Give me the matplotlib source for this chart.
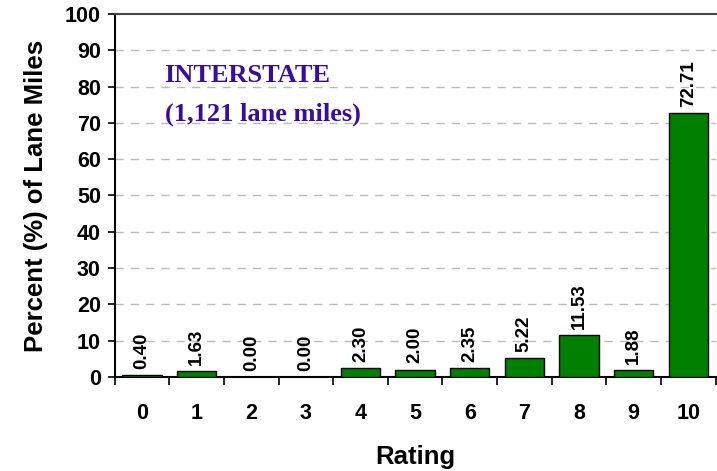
import matplotlib.pyplot as plt
import numpy as np

ratings = ['0', '1', '2', '3', '4', '5', '6', '7', '8', '9', '10']
percents = [0.40, 1.63, 0.00, 0.00, 2.30, 2.00, 2.35, 5.22, 11.53, 1.88, 72.71]

plt.rcParams['font.family'] = ['Liberation Sans', 'DejaVu Sans']

fig = plt.figure(figsize=(7.17, 4.71), dpi=100)
ax = fig.add_axes([0.160, 0.200, 0.838, 0.770])

x = np.arange(len(ratings))
ax.bar(x, percents, width=0.72, color='#008000', edgecolor='black', linewidth=1, zorder=3)

for xi, v in zip(x, percents):
    ax.annotate('%.2f' % v, (xi, v), xytext=(0, 4.5), textcoords='offset points',
                rotation=90, ha='center', va='bottom', fontsize=13.5, fontweight='bold')

ax.set_xlim(-0.5, 10.5)
ax.set_ylim(0, 100)
ax.set_yticks(range(0, 101, 10))
ax.set_yticklabels([str(t) for t in range(0, 101, 10)], fontsize=15.5, fontweight='bold')

# category ticks at boundaries, labels at centres
ax.set_xticks(np.arange(-0.5, 11, 1))
ax.set_xticklabels([])
ax.set_xticks(x, minor=True)
ax.set_xticklabels(ratings, minor=True, fontsize=15.5, fontweight='bold')
ax.tick_params(axis='x', which='major', direction='out', length=6, width=1.2)
ax.tick_params(axis='x', which='minor', length=0, pad=19)
ax.tick_params(axis='y', direction='out', length=5, width=1.2, pad=5)

for g in range(10, 100, 10):
    ax.axhline(g, color='#bbbbbb', linestyle=(0, (6, 5)), linewidth=1, zorder=1)

ax.spines['right'].set_visible(False)
ax.spines['top'].set_color('#444444')
ax.spines['top'].set_linewidth(1.5)
ax.spines['left'].set_linewidth(1.5)
ax.spines['bottom'].set_linewidth(1.5)

ax.set_xlabel('Rating', fontsize=18.5, fontweight='bold', labelpad=15)
ax.set_ylabel('Percent (%) of Lane Miles', fontsize=18.5, fontweight='bold', labelpad=12)

ax.text(0.083, 0.830, 'INTERSTATE', transform=ax.transAxes, fontsize=19,
        fontweight='bold', family='Liberation Serif', color='#380c9c', va='center')
ax.text(0.083, 0.724, '(1,121 lane miles)', transform=ax.transAxes, fontsize=19,
        fontweight='bold', family='Liberation Serif', color='#380c9c', va='center')

fig.savefig('out.png', dpi=100)
